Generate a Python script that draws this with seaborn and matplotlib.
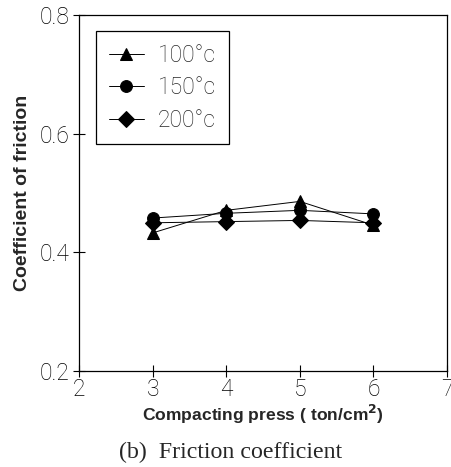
import pandas as pd
import numpy as np
import matplotlib
matplotlib.use("Agg")
import matplotlib.pyplot as plt
import seaborn as sns
from matplotlib.font_manager import FontProperties

press = [3, 4, 5, 6]
fric_100 = [0.433, 0.471, 0.486, 0.446]
fric_150 = [0.458, 0.466, 0.471, 0.465]
fric_200 = [0.450, 0.452, 0.454, 0.450]
labels = ["100°c", "150°c", "200°c"]

df = pd.DataFrame({
    "press": press * 3,
    "friction": fric_100 + fric_150 + fric_200,
    "temp": [labels[0]] * 4 + [labels[1]] * 4 + [labels[2]] * 4,
})

sns.set_style("ticks")
plt.rcParams["font.family"] = ["Liberation Sans", "DejaVu Sans"]

light = FontProperties(family=["Roboto", "DejaVu Sans"], weight="light", size=16.5)

fig = plt.figure(figsize=(4.52, 4.67), dpi=100)
ax = fig.add_axes([0.175, 0.205, 0.814, 0.763])

sns.lineplot(data=df, x="press", y="friction", style="temp", hue="temp",
             palette=["black"] * 3, markers=["^", "o", "D"], dashes=False,
             markersize=8.5, markeredgecolor="black", linewidth=0.7, ax=ax)

ax.set_xlim(2, 7)
ax.set_ylim(0.2, 0.8)
ax.set_xticks([2, 3, 4, 5, 6, 7])
ax.set_yticks([0.2, 0.4, 0.6, 0.8])
ax.set_yticklabels(["0.2", "0.4", "0.6", "0.8"])
ax.tick_params(direction="inout", length=8, width=0.8, colors="black")
ax.tick_params(axis="y", pad=3)
ax.tick_params(axis="x", pad=1)
for t in ax.get_xticklabels() + ax.get_yticklabels():
    t.set_fontproperties(light)
for s in ax.spines.values():
    s.set_linewidth(0.9)
    s.set_color("black")

ax.set_xlabel("Compacting press ( ton/cm$^{\\mathbf{2}}$)", fontsize=12.6, fontweight="bold", labelpad=1)
ax.set_ylabel("Coefficient of friction", fontsize=14, fontweight="bold", labelpad=6)

leg = ax.legend(loc="upper left", bbox_to_anchor=(0.046, 0.955), borderaxespad=0,
                prop=FontProperties(family=["Roboto", "DejaVu Sans"], weight="light", size=16.5),
                frameon=True, fancybox=False, edgecolor="black", framealpha=1,
                handlelength=1.55, handletextpad=0.6, labelspacing=0.42, borderpad=0.55)
leg.get_frame().set_linewidth(0.9)

fig.text(0.51, 0.032, "(b)  Friction coefficient", ha="center", va="center",
         fontsize=17.2, family="Liberation Serif")

fig.savefig("out.png", dpi=100)
